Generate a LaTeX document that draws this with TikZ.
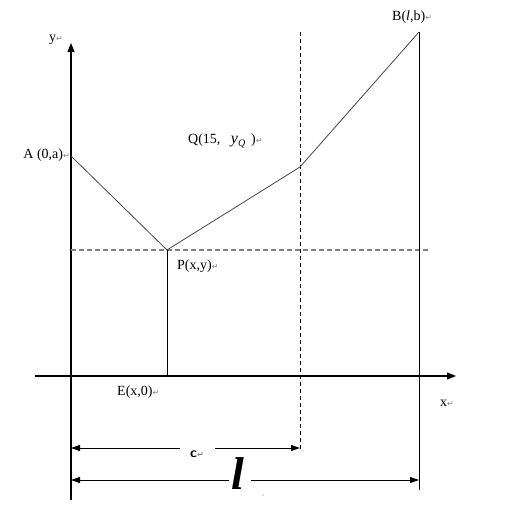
\documentclass[tikz,border=0pt]{standalone}
\usepackage{fontspec}
\setmainfont{Liberation Serif}
\newfontfamily\symfont{DejaVu Sans}
\usetikzlibrary{arrows.meta}
\definecolor{linegray}{RGB}{70,70,70}
\definecolor{markgray}{RGB}{130,130,130}
\newcommand{\pmark}{{\symfont\color{markgray}\fontsize{8}{9}\selectfont ↵}}
\begin{document}
\begin{tikzpicture}[x=1pt,y=-1pt,
  axis/.style={draw=black,line width=1.1pt,-{Triangle[length=9pt,width=7pt]}},
  curve/.style={draw=linegray,line width=0.8pt},
  solid line/.style={draw=black,line width=1pt},
  dash line/.style={draw=black,line width=0.8pt,dash pattern=on 4pt off 3pt},
  dash gray/.style={draw=markgray,line width=1.1pt,dash pattern=on 5pt off 3pt},
  dim/.style={draw=black,line width=0.9pt},
  tip/.style={-{Triangle[length=9pt,width=6pt]}},
  lbl/.style={inner sep=0pt,font=\fontsize{14}{16}\selectfont}]
\useasboundingbox (0,0) rectangle (515,515);
% points
\coordinate (O) at (71,376);
\coordinate (A) at (71,156);
\coordinate (P) at (167,250);
\coordinate (E) at (167,376);
\coordinate (Q) at (300,167);
\coordinate (B) at (419,32);
\coordinate (ytop) at (71,43);
\coordinate (ybot) at (71,500);
\coordinate (xl) at (35,376);
\coordinate (xr) at (456,376);
\coordinate (Qtop) at (300,32);
\coordinate (Qbot) at (300,452);
\coordinate (Bbot) at (419,490);
\coordinate (Pr) at (430,250);
% axes
\draw[axis] (ybot) -- (ytop);
\draw[axis] (xl) -- (xr);
% dashed
\draw[dash gray] (71,250) -- (Pr);
\draw[dash line] (Qtop) -- (Qbot);
% polyline
\draw[curve] (A) -- (P) -- (Q) -- (B);
\draw[solid line] (P) -- (E);
\draw[solid line] (B) -- (Bbot);
% dimension c
\coordinate (c1) at (71,448);
\coordinate (c2) at (300,448);
\coordinate (cg1) at (180,448);
\coordinate (cg2) at (215,448);
\draw[dim,tip] (cg1) -- (c1);
\draw[dim,tip] (cg2) -- (c2);
\node[lbl,font=\fontsize{14}{14}\selectfont\sffamily\bfseries] (clab) at (197,454) {c\pmark};
% dimension l
\coordinate (l1) at (71,480);
\coordinate (l2) at (419,480);
\coordinate (lg1) at (229,480);
\coordinate (lg2) at (251,480);
\draw[dim,tip] (lg1) -- (l1);
\draw[dim,tip] (lg2) -- (l2);
\node[inner sep=0pt,font=\fontsize{46}{46}\selectfont\bfseries\itshape] (llab) at (238,474) {l};
\node[circle,fill=markgray,inner sep=0.4pt] (dot) at (263,495) {};
% labels
\node[lbl,anchor=east] (ylab) at (63,40) {y\pmark};
\node[lbl,anchor=east] (Alab) at (70,155) {A (0,a)\pmark};
\node[lbl,anchor=west] (Qlab) at (188,141) {Q(15,\ \ \ {\fontsize{16}{16}\selectfont\textit{y}}\raisebox{-3pt}{\fontsize{10}{10}\selectfont\textit{Q}}\ \,)\pmark};
\node[lbl,anchor=west] (Blab) at (392,17) {B(\textit{l},b)\pmark};
\node[lbl,anchor=west] (Plab) at (177,266) {P(x,y)\pmark};
\node[lbl,anchor=west] (Elab) at (117,392) {E(x,0)\pmark};
\node[lbl,anchor=west] (xlab) at (440,403) {x\pmark};
\end{tikzpicture}
\end{document}
